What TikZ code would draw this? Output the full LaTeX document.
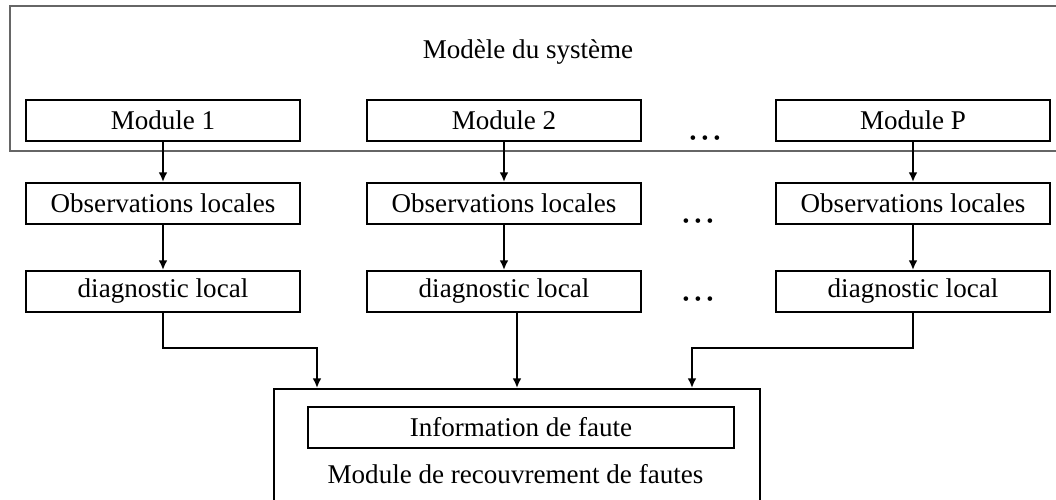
\documentclass[tikz,border=0pt]{standalone}
\usepackage{fontspec}
\setmainfont{Liberation Serif}
\usetikzlibrary{arrows.meta,positioning,calc}

\begin{document}
\begin{tikzpicture}[
  box/.style={
    draw=black,
    line width=1.1pt,
    minimum width=5.48cm,
    minimum height=0.82cm,
    inner sep=0pt,
    font=\fontsize{15.4}{18}\selectfont
  },
  label/.style={inner sep=0pt, font=\fontsize{15.4}{18}\selectfont},
  dots/.style={inner sep=0pt, font=\fontsize{11}{11}\selectfont},
  arrow/.style={line width=1.1pt, -{Latex[length=5.5pt,width=5pt]}}
]
\useasboundingbox (0,0) rectangle (21.12,-9.98);
\clip (0,0) rectangle (21.12,-9.98);

% -------- Model of the system --------
\draw[black!60, line width=0.7pt] (0.2,-0.12) rectangle (21.5,-3.02);
\node[label] (modeltitle) at (10.56,-1.04) {Modèle du système};

% -------- Modules --------
\node[box] (mod1) at (3.26,-2.41) {Module 1};
\node[box] (mod2) at (10.08,-2.41) {Module 2};
\node[box] (modP) at (18.26,-2.41) {Module P};

% -------- Local observations --------
\node[box] (obs1) at (3.26,-4.07) {Observations locales};
\node[box] (obs2) at (10.08,-4.07) {Observations locales};
\node[box] (obsP) at (18.26,-4.07) {Observations locales};

% -------- Local diagnosis --------
\node[box] (diag1) at (3.26,-5.83) {diagnostic local};
\node[box] (diag2) at (10.08,-5.83) {diagnostic local};
\node[box] (diagP) at (18.26,-5.83) {diagnostic local};

% -------- dots --------
\node[dots] (dots1) at (14.1,-2.8) {\textbullet\hspace{3pt}\textbullet\hspace{3pt}\textbullet};
\node[dots] (dots2) at (13.96,-4.46) {\textbullet\hspace{3pt}\textbullet\hspace{3pt}\textbullet};
\node[dots] (dots3) at (13.96,-6.02) {\textbullet\hspace{3pt}\textbullet\hspace{3pt}\textbullet};

% -------- Recovery module --------
\node[draw=black, line width=1.1pt, minimum width=9.72cm, minimum height=2.82cm] (recov) at (10.34,-9.19) {};
\node[draw=black, line width=0.7pt, minimum width=8.52cm, minimum height=0.82cm, inner sep=0pt,
  font=\fontsize{15.4}{18}\selectfont] (info) at (10.42,-8.55) {Information de faute};
\node[label] (recovlabel) at (10.31,-9.48) {Module de recouvrement de fautes};

% -------- arrows --------
\foreach \col in {1,2,P}{
  \draw[arrow] (mod\col.south) -- (obs\col.north);
  \draw[arrow] (obs\col.south) -- (diag\col.north);
}
\draw[arrow] (diag1.south) -- ++(0,-0.7) -| ([xshift=-4cm]recov.north);
\draw[arrow] (diag2.south -| recov.north) -- (recov.north);
\draw[arrow] (diagP.south) -- ++(0,-0.7) -| ([xshift=3.5cm]recov.north);

\end{tikzpicture}
\end{document}
